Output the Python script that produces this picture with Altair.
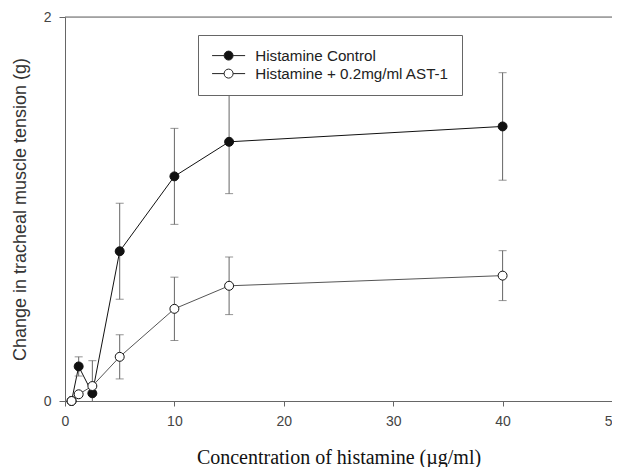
import altair as alt
import pandas as pd

series_names = ["Histamine Control", "Histamine + 0.2mg/ml AST-1"]
conc = [0.6, 1.25, 2.5, 5, 10, 15, 40]
control_mean = [0.0, 0.18, 0.04, 0.78, 1.17, 1.35, 1.43]
control_err = [0.0, 0.05, 0.17, 0.25, 0.25, 0.27, 0.28]
ast_mean = [0.0, 0.035, 0.078, 0.23, 0.48, 0.60, 0.653]
ast_err = [0.0, 0.0, 0.0, 0.115, 0.165, 0.15, 0.13]
x_ticks = [0, 10, 20, 30, 40, 50]
y_ticks = [0, 1, 2]

rows = []
for i, c in enumerate(conc):
    rows.append(dict(series=series_names[0], conc=c, mean=control_mean[i],
                     lo=control_mean[i] - control_err[i], hi=control_mean[i] + control_err[i],
                     err=control_err[i], z=0))
for i, c in enumerate(conc):
    rows.append(dict(series=series_names[1], conc=c, mean=ast_mean[i],
                     lo=ast_mean[i] - ast_err[i], hi=ast_mean[i] + ast_err[i],
                     err=ast_err[i], z=1))
df = pd.DataFrame(rows)

xscale = alt.Scale(domain=[0, 50], nice=False, zero=False)
yscale = alt.Scale(domain=[0, 2], nice=False)
fill_scale = alt.Scale(domain=series_names, range=["#111", "#ffffff"])

x_axis = alt.Axis(values=x_ticks, title="Concentration of histamine (\u00b5g/ml)",
                  titleFont="Liberation Serif", titleFontSize=20, titleFontWeight="normal",
                  titleColor="#111", titlePadding=19,
                  labelFont="Liberation Sans", labelFontSize=14, labelColor="#444",
                  labelPadding=8, tickSize=5, tickColor="#666", domainColor="#666",
                  grid=False, labelFlush=False, labelOverlap=False, format="d")
y_axis = alt.Axis(values=y_ticks, title="Change in tracheal muscle tension (g)",
                  titleFont="Liberation Sans", titleFontSize=18, titleFontWeight="normal",
                  titleColor="#333", titlePadding=14,
                  labelFont="Liberation Sans", labelFontSize=14, labelColor="#444",
                  labelPadding=8, tickSize=6, tickColor="#666", domainColor="#666",
                  grid=False, labelFlush=False, format="d")

# legend symbol: short line with a circle in the middle (unit coords)
legend_path = "M-3.67,0L-1,0M1,0L3.67,0M1,0A1,1,0,1,1,-1,0A1,1,0,1,1,1,0Z"
legend = alt.Legend(title=None, orient="none", legendX=133, legendY=18,
                    direction="vertical", symbolType=legend_path,
                    symbolSize=81, symbolStrokeColor="#222", symbolStrokeWidth=1,
                    symbolOffset=10, labelOffset=19,
                    labelFont="Liberation Sans", labelFontSize=15.2,
                    labelColor="#222", labelLimit=400,
                    strokeColor="#666", fillColor="white", padding=13,
                    rowPadding=2)

base = alt.Chart(df)

top_frame = alt.Chart(pd.DataFrame({"v": [2]})).mark_rule(color="#666", strokeWidth=1).encode(
    y=alt.Y("v:Q", scale=yscale, axis=y_axis)
)

line_control = base.transform_filter(alt.datum.series == series_names[0]).mark_line(
    strokeWidth=1, color="#111", clip=True).encode(
    x=alt.X("conc:Q", scale=xscale, axis=x_axis),
    y=alt.Y("mean:Q", scale=yscale, axis=y_axis),
    order=alt.Order("conc:Q"),
)
line_ast = base.transform_filter(alt.datum.series == series_names[1]).mark_line(
    strokeWidth=1, color="#555", clip=True).encode(
    x="conc:Q", y="mean:Q", order=alt.Order("conc:Q"),
)

err_df = base.transform_filter("datum.err > 0")
bars = err_df.mark_rule(color="#666", strokeWidth=1, clip=True).encode(
    x="conc:Q", y="lo:Q", y2="hi:Q"
)
caps_hi = err_df.mark_tick(color="#666", orient="horizontal", size=8, thickness=1, clip=True).encode(
    x="conc:Q", y="hi:Q"
)
caps_lo = err_df.mark_tick(color="#666", orient="horizontal", size=8, thickness=1, clip=True).encode(
    x="conc:Q", y="lo:Q"
)

points = base.mark_point(filled=True, size=80, stroke="#111", strokeWidth=1,
                         opacity=1, fillOpacity=1, strokeOpacity=1).encode(
    x="conc:Q",
    y="mean:Q",
    fill=alt.Fill("series:N", scale=fill_scale, legend=legend),
    order=alt.Order("z:Q"),
)

chart = alt.layer(top_frame, line_control, line_ast, bars, caps_hi, caps_lo, points).properties(
    width=547, height=384,
    autosize=alt.AutoSizeParams(type="none"),
    padding={"left": 57, "top": 9, "right": 0, "bottom": 66},
).configure_view(stroke=None).configure(background="white")

chart.save("out.html", embed_options={"renderer": "svg", "actions": False})
